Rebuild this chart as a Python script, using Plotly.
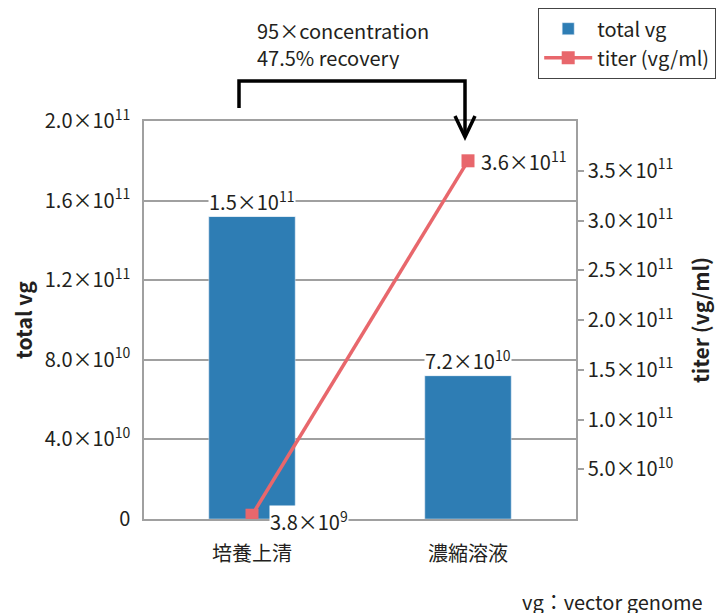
import plotly.graph_objects as go

categories = ["培養上清", "濃縮溶液"]
total_vg = [1.52e11, 7.2e10]
titer = [3.8e9, 3.6e11]
total_vg_labels = ["1.5×10<sup>11</sup>", "7.2×10<sup>10</sup>"]
titer_labels = ["3.8×10<sup>9</sup>", "3.6×10<sup>11</sup>"]

left_tickvals = [0, 4e10, 8e10, 1.2e11, 1.6e11, 2.0e11]
left_ticktext = ["0", "4.0×10<sup>10</sup>", "8.0×10<sup>10</sup>", "1.2×10<sup>11</sup>",
                 "1.6×10<sup>11</sup>", "2.0×10<sup>11</sup>"]
right_tickvals = [5e10, 1e11, 1.5e11, 2e11, 2.5e11, 3e11, 3.5e11]
right_ticktext = ["5.0×10<sup>10</sup>", "1.0×10<sup>11</sup>", "1.5×10<sup>11</sup>",
                  "2.0×10<sup>11</sup>", "2.5×10<sup>11</sup>", "3.0×10<sup>11</sup>",
                  "3.5×10<sup>11</sup>"]

FONT = "Noto Sans CJK JP, Noto Sans, sans-serif"
TXT = "#231f20"
GRID = "#a0a0a0"
BLUE = "#2e7db4"
RED = "#e8676c"
FS = 20

W, H = 723, 614
L, R, T, B = 144, 147, 121, 95
pw, ph = W - L - R, H - T - B


def px(x):
    return (x - L) / pw


def py(y):
    return (H - B - y) / ph


fig = go.Figure()
fig.add_trace(go.Bar(x=categories, y=total_vg, name="total vg", marker_color=BLUE,
                     width=0.4, yaxis="y"))
fig.add_trace(go.Scatter(x=categories, y=titer, name="titer (vg/ml)", yaxis="y2",
                         mode="lines+markers",
                         line=dict(color=RED, width=3.5),
                         marker=dict(symbol="square", size=13, color=RED)))

annotations = []
for c, v, t in zip(categories, total_vg, total_vg_labels):
    annotations.append(dict(x=c, y=v, yref="y", text=t, showarrow=False, yanchor="bottom",
                            yshift=0, bgcolor="white", borderpad=0,
                            font=dict(size=FS, color=TXT, family=FONT)))
for c, v, t, dy in zip(categories, titer, titer_labels, [-6, 0]):
    annotations.append(dict(x=c, y=v, yref="y2", text=t, showarrow=False, xanchor="left",
                            xshift=17 if dy else 12, yshift=dy, bgcolor="white", borderpad=0,
                            font=dict(size=FS, color=TXT, family=FONT)))
for txt, yy in [("95×concentration", 30), ("47.5% recovery", 57)]:
    annotations.append(dict(x=px(255), y=py(yy), xref="paper", yref="paper", xanchor="left",
                            yanchor="middle", align="left", showarrow=False, text=txt,
                            height=24,
                            font=dict(size=FS, color=TXT, family=FONT)))
annotations.append(dict(x=px(705), y=py(601), xref="paper", yref="paper", xanchor="right",
                        yanchor="middle", showarrow=False, text="vg：vector genome",
                        height=24,
                        font=dict(size=FS, color=TXT, family=FONT)))

shapes = [
    dict(type="path", xref="paper", yref="paper",
         path=f"M {px(239)} {py(108)} L {px(239)} {py(81)} L {px(465)} {py(81)} L {px(465)} {py(136)}",
         line=dict(color="black", width=3.5)),
    dict(type="path", xref="paper", yref="paper",
         path=f"M {px(455)} {py(116)} L {px(465)} {py(137)} L {px(475)} {py(116)}",
         line=dict(color="black", width=3.5)),
]

fig.update_layout(
    width=W, height=H,
    margin=dict(l=L, r=R, t=T, b=B, autoexpand=False),
    paper_bgcolor="white", plot_bgcolor="white",
    font=dict(family=FONT, size=FS, color=TXT),
    showlegend=True,
    legend=dict(x=px(716), y=py(8), xanchor="right", yanchor="top",
                bordercolor="#444", borderwidth=1.2, bgcolor="white",
                font=dict(size=FS, color=TXT, family=FONT), tracegroupgap=0,
                itemwidth=48),
    xaxis=dict(showline=True, linecolor=GRID, linewidth=1.5, mirror=True, automargin=False,
               ticks="outside", ticklen=16, tickcolor="rgba(0,0,0,0)",
               tickfont=dict(size=FS, color=TXT, family=FONT)),
    yaxis=dict(range=[0, 2e11], tickvals=left_tickvals, ticktext=left_ticktext,
               showgrid=True, gridcolor=GRID, gridwidth=1.5, zeroline=False,
               showline=True, linecolor=GRID, linewidth=1.5, automargin=False,
               ticks="outside", ticklen=8, tickcolor="rgba(0,0,0,0)",
               tickfont=dict(size=FS, color=TXT, family=FONT),
               title=dict(text="<b>total vg</b>", standoff=6,
                          font=dict(size=21, color=TXT, family=FONT))),
    yaxis2=dict(range=[0, 4e11], overlaying="y", side="right", automargin=False,
                tickvals=right_tickvals, ticktext=right_ticktext, showgrid=False,
                zeroline=False, showline=True, linecolor=GRID, linewidth=1.5,
                ticks="outside", ticklen=6, tickcolor=GRID, tickwidth=1.5,
                tickfont=dict(size=FS, color=TXT, family=FONT),
                title=dict(text="<b>titer (vg/ml)</b>", standoff=22,
                           font=dict(size=21, color=TXT, family=FONT))),
    annotations=annotations,
    shapes=shapes,
)

fig.write_html("out.html", post_script="document.body.style.margin='0';",
               config={"displayModeBar": False})
